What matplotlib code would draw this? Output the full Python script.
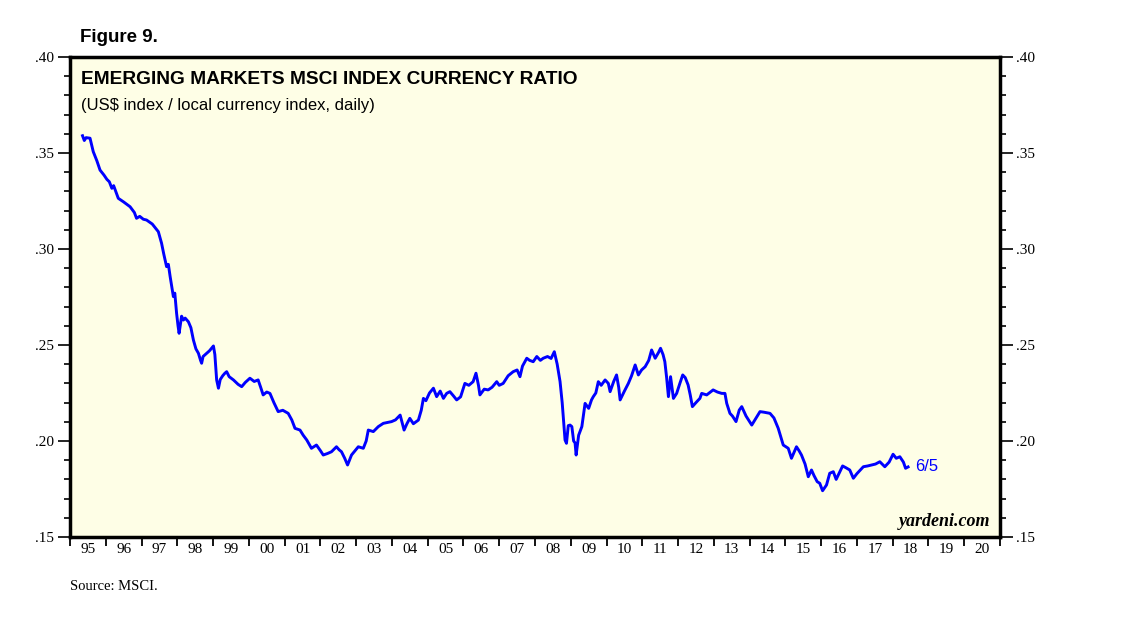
# EM MSCI index currency ratio chart, yardeni style
import numpy as np
import matplotlib
matplotlib.use("Agg")
import matplotlib.pyplot as plt
from matplotlib.ticker import MultipleLocator, FixedLocator

# decimal year of each reading
years = [
    1995.35, 1995.40, 1995.45, 1995.56, 1995.65, 1995.75, 1995.84, 1995.95,
    1996.03, 1996.10, 1996.17, 1996.22, 1996.35, 1996.50, 1996.68, 1996.80,
    1996.86, 1996.95, 1997.05, 1997.14, 1997.30, 1997.47, 1997.56, 1997.62,
    1997.70, 1997.75, 1997.80, 1997.89, 1997.93, 1997.98, 1998.02, 1998.05,
    1998.08, 1998.12, 1998.17, 1998.22, 1998.31, 1998.38, 1998.45, 1998.52,
    1998.59, 1998.65, 1998.68, 1998.72, 1998.82, 1998.90, 1999.01, 1999.05,
    1999.10, 1999.15, 1999.20, 1999.27, 1999.33, 1999.38, 1999.45, 1999.57,
    1999.70, 1999.80, 1999.90, 2000.03, 2000.15, 2000.26, 2000.33, 2000.40,
    2000.50, 2000.59, 2000.70, 2000.82, 2000.95, 2001.10, 2001.20, 2001.29,
    2001.43, 2001.52, 2001.62, 2001.75, 2001.89, 2002.00, 2002.08, 2002.20,
    2002.31, 2002.45, 2002.52, 2002.59, 2002.68, 2002.76, 2002.87, 2002.97,
    2003.06, 2003.20, 2003.28, 2003.34, 2003.48, 2003.62, 2003.76, 2003.99,
    2004.10, 2004.23, 2004.34, 2004.42, 2004.50, 2004.60, 2004.74, 2004.82,
    2004.88, 2004.95, 2005.05, 2005.16, 2005.25, 2005.35, 2005.44, 2005.53,
    2005.62, 2005.72, 2005.81, 2005.92, 2006.04, 2006.15, 2006.27, 2006.35,
    2006.42, 2006.46, 2006.58, 2006.69, 2006.80, 2006.93, 2007.00, 2007.11,
    2007.25, 2007.39, 2007.50, 2007.58, 2007.65, 2007.77, 2007.85, 2007.95,
    2008.05, 2008.15, 2008.23, 2008.35, 2008.45, 2008.54, 2008.62, 2008.70,
    2008.76, 2008.79, 2008.84, 2008.88, 2008.93, 2008.98, 2009.03, 2009.08,
    2009.12, 2009.15, 2009.22, 2009.31, 2009.40, 2009.50, 2009.58, 2009.63,
    2009.70, 2009.77, 2009.85, 2009.96, 2010.05, 2010.10, 2010.20, 2010.28,
    2010.34, 2010.38, 2010.50, 2010.61, 2010.70, 2010.80, 2010.89, 2010.98,
    2011.08, 2011.18, 2011.26, 2011.36, 2011.45, 2011.51, 2011.58, 2011.63,
    2011.68, 2011.73, 2011.79, 2011.87, 2011.96, 2012.05, 2012.13, 2012.20,
    2012.28, 2012.34, 2012.40, 2012.50, 2012.61, 2012.66, 2012.80, 2012.98,
    2013.10, 2013.22, 2013.31, 2013.36, 2013.45, 2013.52, 2013.62, 2013.71,
    2013.78, 2013.90, 2014.06, 2014.15, 2014.29, 2014.40, 2014.57, 2014.68,
    2014.80, 2014.94, 2015.08, 2015.17, 2015.31, 2015.38, 2015.45, 2015.55,
    2015.64, 2015.73, 2015.80, 2015.89, 2015.96, 2016.04, 2016.15, 2016.24,
    2016.34, 2016.42, 2016.48, 2016.60, 2016.70, 2016.80, 2016.90, 2017.00,
    2017.18, 2017.30, 2017.41, 2017.52, 2017.64, 2017.78, 2017.90, 2018.01,
    2018.10, 2018.20, 2018.30, 2018.36, 2018.43,
]

# US$ index / local currency index
ratio = [
    0.3590, 0.3565, 0.3580, 0.3577, 0.3507, 0.3460, 0.3411, 0.3385,
    0.3363, 0.3350, 0.3316, 0.3330, 0.3264, 0.3245, 0.3220, 0.3190,
    0.3160, 0.3170, 0.3155, 0.3151, 0.3130, 0.3090, 0.3030, 0.2975,
    0.2908, 0.2920, 0.2856, 0.2752, 0.2770, 0.2665, 0.2600, 0.2561,
    0.2600, 0.2650, 0.2630, 0.2640, 0.2621, 0.2590, 0.2526, 0.2480,
    0.2457, 0.2420, 0.2405, 0.2440, 0.2457, 0.2470, 0.2495, 0.2450,
    0.2318, 0.2275, 0.2320, 0.2340, 0.2353, 0.2361, 0.2335, 0.2318,
    0.2295, 0.2283, 0.2305, 0.2327, 0.2310, 0.2318, 0.2280, 0.2240,
    0.2255, 0.2248, 0.2200, 0.2153, 0.2160, 0.2144, 0.2110, 0.2066,
    0.2057, 0.2030, 0.2005, 0.1962, 0.1979, 0.1950, 0.1927, 0.1935,
    0.1944, 0.1970, 0.1955, 0.1944, 0.1910, 0.1875, 0.1927, 0.1950,
    0.1970, 0.1962, 0.2000, 0.2057, 0.2049, 0.2075, 0.2092, 0.2101,
    0.2110, 0.2135, 0.2057, 0.2090, 0.2118, 0.2090, 0.2109, 0.2160,
    0.2222, 0.2210, 0.2250, 0.2275, 0.2231, 0.2260, 0.2222, 0.2248,
    0.2257, 0.2235, 0.2214, 0.2230, 0.2300, 0.2290, 0.2309, 0.2353,
    0.2290, 0.2240, 0.2270, 0.2266, 0.2280, 0.2309, 0.2290, 0.2300,
    0.2340, 0.2361, 0.2370, 0.2335, 0.2390, 0.2431, 0.2420, 0.2413,
    0.2440, 0.2420, 0.2431, 0.2440, 0.2430, 0.2465, 0.2400, 0.2310,
    0.2200, 0.2127, 0.2005, 0.1988, 0.2080, 0.2083, 0.2075, 0.2000,
    0.1990, 0.1927, 0.2030, 0.2075, 0.2196, 0.2170, 0.2214, 0.2231,
    0.2250, 0.2309, 0.2290, 0.2318, 0.2300, 0.2257, 0.2310, 0.2344,
    0.2280, 0.2214, 0.2260, 0.2300, 0.2340, 0.2396, 0.2344, 0.2370,
    0.2387, 0.2420, 0.2474, 0.2431, 0.2460, 0.2483, 0.2450, 0.2413,
    0.2330, 0.2231, 0.2335, 0.2222, 0.2248, 0.2300, 0.2344, 0.2330,
    0.2292, 0.2240, 0.2179, 0.2200, 0.2222, 0.2248, 0.2240, 0.2266,
    0.2255, 0.2248, 0.2248, 0.2196, 0.2144, 0.2130, 0.2101, 0.2161,
    0.2179, 0.2130, 0.2083, 0.2110, 0.2153, 0.2150, 0.2144, 0.2120,
    0.2066, 0.1979, 0.1962, 0.1910, 0.1970, 0.1950, 0.1927, 0.1880,
    0.1814, 0.1849, 0.1820, 0.1788, 0.1780, 0.1741, 0.1771, 0.1832,
    0.1840, 0.1800, 0.1823, 0.1870, 0.1860, 0.1849, 0.1806, 0.1830,
    0.1866, 0.1870, 0.1875, 0.1880, 0.1892, 0.1866, 0.1890, 0.1931,
    0.1910, 0.1918, 0.1890, 0.1858, 0.1865,
]

year_labels = ['95', '96', '97', '98', '99', '00', '01', '02', '03', '04',
               '05', '06', '07', '08', '09', '10', '11', '12', '13', '14',
               '15', '16', '17', '18', '19', '20']
y_labels = ['.15', '.20', '.25', '.30', '.35', '.40']

fig = plt.figure(figsize=(11.38, 6.21), dpi=100)
ax = fig.add_axes([70/1138, 1 - 537/621, 930/1138, 480/621])
ax.set_facecolor('#FEFEE6')

ax.plot(years, ratio, color='#0000FF', lw=2.1, solid_joinstyle='round')

ax.set_xlim(1995, 2021)
ax.set_ylim(0.15, 0.40)

# year boundaries get the ticks, labels sit in between
ax.xaxis.set_major_locator(FixedLocator(np.arange(1995, 2022)))
ax.xaxis.set_minor_locator(FixedLocator(np.arange(1995.5, 2021, 1.0)))
ax.xaxis.set_major_formatter(plt.NullFormatter())
ax.xaxis.set_minor_formatter(plt.FixedFormatter(year_labels))
ax.tick_params(axis='x', which='major', direction='out', length=6.5, width=1.3)
ax.tick_params(axis='x', which='minor', length=0, pad=4,
               labelsize=11, labelfontfamily='Liberation Serif')

ax.yaxis.set_major_locator(FixedLocator([0.15, 0.20, 0.25, 0.30, 0.35, 0.40]))
ax.yaxis.set_major_formatter(plt.FixedFormatter(y_labels))
ax.yaxis.set_minor_locator(MultipleLocator(0.01))
ax.tick_params(axis='y', which='both', direction='out', left=True, right=True,
               labelleft=True, labelright=True, width=1.2)
ax.tick_params(axis='y', which='major', length=9, pad=2.5,
               labelsize=11, labelfontfamily='Liberation Serif')
ax.tick_params(axis='y', which='minor', length=4)

for s in ax.spines.values():
    s.set_linewidth(2.5)

fig.text(80/1138, 1 - 38/621, 'Figure 9.', fontsize=13.5, fontweight='bold',
         family='Liberation Sans', va='center')
ax.text(0.012, 0.97, 'EMERGING MARKETS MSCI INDEX CURRENCY RATIO',
        transform=ax.transAxes, fontsize=13.8, fontweight='bold',
        family='Liberation Sans', va='top')
ax.text(0.012, 0.915, '(US$ index / local currency index, daily)',
        transform=ax.transAxes, fontsize=12, family='Liberation Sans', va='top')
ax.text(years[-1] + 0.2, ratio[-1], '6/5', color='#0000FF', fontsize=12,
        family='Liberation Sans', va='center')
ax.text(0.99, 0.015, 'yardeni.com', transform=ax.transAxes, ha='right',
        va='bottom', fontsize=13, fontstyle='italic', fontweight='bold',
        family='Liberation Serif')
fig.text(70/1138, 1 - 586/621, 'Source: MSCI.', fontsize=10.5,
         family='Liberation Serif', va='center')

fig.savefig('out.png', dpi=100, facecolor='white')
